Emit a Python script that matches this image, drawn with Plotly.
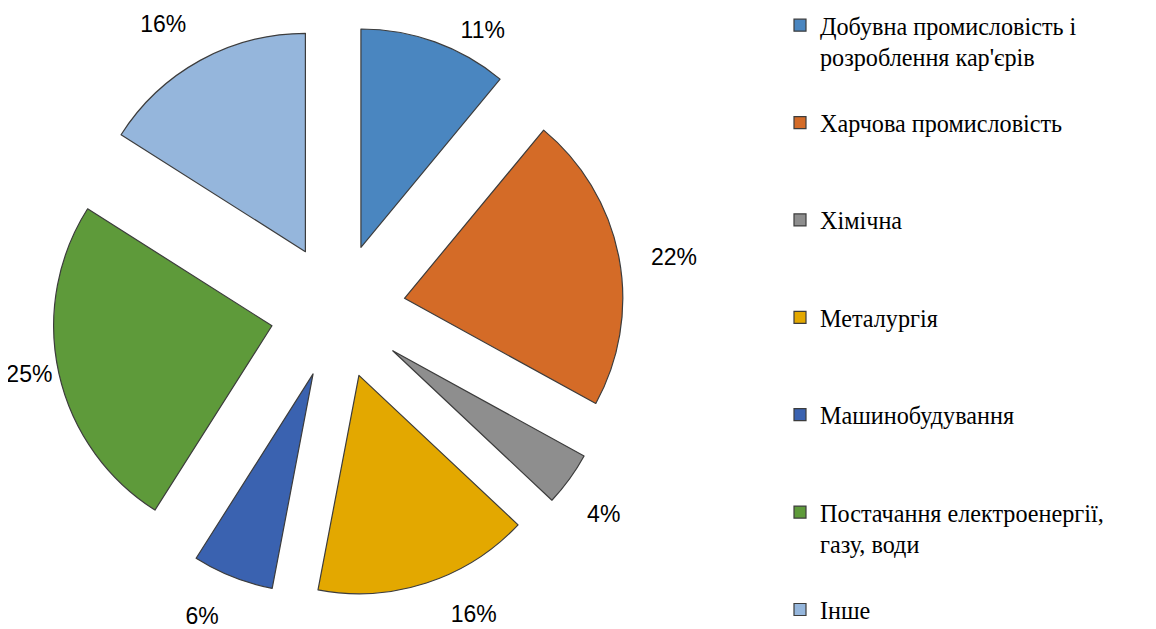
import plotly.graph_objects as go

categories = [
    "Добувна промисловість і<br>розроблення кар'єрів",
    "Харчова промисловість",
    "Хімічна",
    "Металургія",
    "Машинобудування",
    "Постачання електроенергії,<br>газу, води",
    "Інше",
]
values = [11, 22, 4, 16, 6, 25, 16]
colors = ["#4A86C0", "#D46B27", "#8E8E8E", "#E3A800", "#3A62B0", "#5E9A3A", "#95B6DC"]

NB = "\u00a0"
BIG = "<span style='font-size:40px'>" + NB + "</span><br>"
SMALL = "<span style='font-size:12px'>" + NB + "</span><br>"
# per-slice label templates: extra blank space nudges the outside labels away from the pie
label_templates = [
    NB * 3 + "%{percent}",
    NB * 4 + "%{percent}",
    BIG + "%{percent}",
    SMALL + NB * 2 + "%{percent}",
    NB + "<br>%{percent}",
    "%{percent}",
    "%{percent}<br>" + NB,
]

# pad legend labels to three lines so legend items are evenly spaced
def pad(label, lines=3):
    n = label.count("<br>") + 1
    return label + ("<br>" + NB) * (lines - n)

legend_labels = [pad(c) for c in categories[:-1]] + [categories[-1]]

fig = go.Figure(go.Pie(
    labels=legend_labels,
    values=values,
    sort=False,
    direction="clockwise",
    rotation=0,
    pull=[0.31] * len(values),
    marker=dict(colors=colors, line=dict(color="#3C3C3C", width=1.2)),
    texttemplate=label_templates,
    textposition="outside",
    textfont=dict(family="Liberation Sans", size=23, color="#000000"),
    domain=dict(x=[44 / 1156, 616 / 1156], y=[1 - 589 / 629, 1 - 17 / 629]),
    hoverinfo="label+percent",
))

fig.update_layout(
    width=1156,
    height=629,
    margin=dict(l=0, r=0, t=0, b=0, autoexpand=False),
    paper_bgcolor="white",
    plot_bgcolor="white",
    showlegend=True,
    legend=dict(
        x=772 / 1156, xanchor="left",
        y=1.008, yanchor="top",
        valign="top",
        maxheight=700,
        font=dict(family="Liberation Serif", size=24.2, color="#000000"),
        bgcolor="rgba(0,0,0,0)",
        traceorder="normal",
    ),
)

fig.write_html("out.html")
